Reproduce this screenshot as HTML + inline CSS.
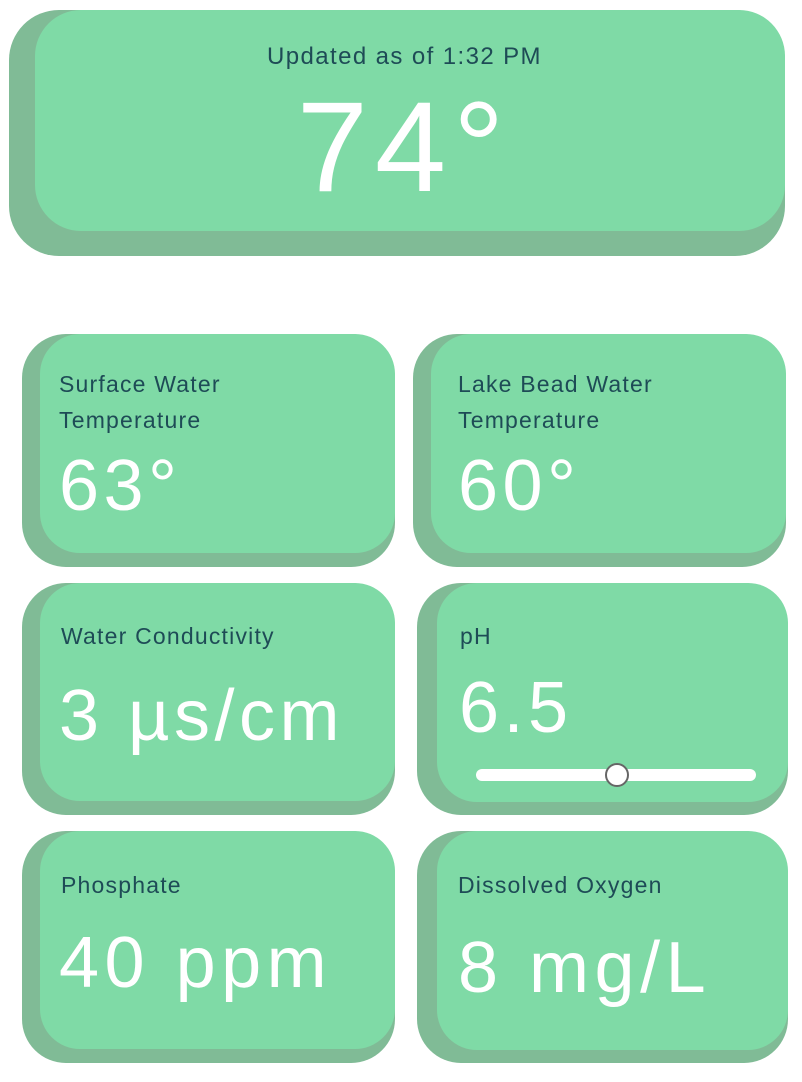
<!DOCTYPE html>
<html><head><meta charset="utf-8"><style>
body{margin:0;width:802px;height:1082px;background:#fff;position:relative;overflow:hidden;font-family:"Liberation Sans",sans-serif}
.card{position:absolute}
.sh{position:absolute;left:0;top:0;right:0;bottom:0;background:#80bb96;border-radius:44px}
.face{position:absolute;top:0;right:0;background:#7fdaa6;border-radius:40px}
.t{position:absolute;color:#1e4b56;font-size:23px;line-height:36px;letter-spacing:1.2px}
.v{position:absolute;color:#fff;font-size:72px;line-height:80px;letter-spacing:4.5px}
</style></head><body>
<div class="card" style="left:9px;top:10px;width:776px;height:246px">
 <div class="sh" style="border-radius:50px"></div>
 <div class="face" style="left:26px;bottom:25px;border-radius:46px"></div>
 <div style="position:absolute;left:0;right:0;top:33px;text-align:center;color:#1e4b56;font-size:24px;letter-spacing:1.4px;padding-left:15px">Updated as of 1:32 PM</div>
 <div style="position:absolute;left:0;right:0;top:68px;text-align:center;color:#fff;font-size:128px;line-height:140px;letter-spacing:7px;padding-left:14px">74°</div>
</div>

<div class="card" style="left:22px;top:334px;width:373px;height:233px">
 <div class="sh"></div><div class="face" style="left:18px;bottom:14px"></div>
 <div class="t" style="left:37px;top:32px">Surface Water<br>Temperature</div>
 <div class="v" style="left:37px;top:112px">63°</div>
</div>
<div class="card" style="left:413px;top:334px;width:373px;height:233px">
 <div class="sh"></div><div class="face" style="left:18px;bottom:14px"></div>
 <div class="t" style="left:45px;top:32px">Lake Bead Water<br>Temperature</div>
 <div class="v" style="left:45px;top:112px">60°</div>
</div>

<div class="card" style="left:22px;top:583px;width:373px;height:232px">
 <div class="sh"></div><div class="face" style="left:18px;bottom:14px"></div>
 <div class="t" style="left:39px;top:35px">Water Conductivity</div>
 <div class="v" style="left:37px;top:93px">3 µs/cm</div>
</div>
<div class="card" style="left:417px;top:583px;width:371px;height:232px">
 <div class="sh"></div><div class="face" style="left:20px;bottom:13px"></div>
 <div class="t" style="left:43px;top:35px">pH</div>
 <div class="v" style="left:42px;top:85px">6.5</div>
 <div style="position:absolute;left:59px;top:186px;width:280px;height:12px;background:#fff;border-radius:6px"></div>
 <div style="position:absolute;left:188px;top:180px;width:20px;height:20px;background:#fff;border:2.5px solid #666;border-radius:50%"></div>
</div>

<div class="card" style="left:22px;top:831px;width:373px;height:232px">
 <div class="sh"></div><div class="face" style="left:18px;bottom:14px"></div>
 <div class="t" style="left:39px;top:36px">Phosphate</div>
 <div class="v" style="left:37px;top:92px;letter-spacing:5.5px">40 ppm</div>
</div>
<div class="card" style="left:417px;top:831px;width:371px;height:232px">
 <div class="sh"></div><div class="face" style="left:20px;bottom:13px"></div>
 <div class="t" style="left:41px;top:36px">Dissolved Oxygen</div>
 <div class="v" style="left:41px;top:97px;letter-spacing:5.5px">8 mg/L</div>
</div>
</body></html>
